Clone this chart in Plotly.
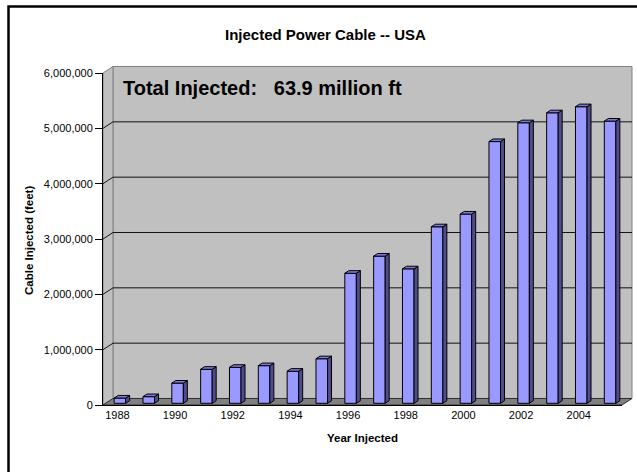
import plotly.graph_objects as go

# ---------------- data ----------------
years = list(range(1988, 2006))
cable_ft = [95000, 120000, 365000, 615000, 650000, 680000, 580000, 805000,
            2350000, 2660000, 2430000, 3190000, 3420000, 4730000, 5070000,
            5250000, 5360000, 5100000]
y_ticks = [0, 1000000, 2000000, 3000000, 4000000, 5000000, 6000000]
x_tick_years = [1988, 1990, 1992, 1994, 1996, 1998, 2000, 2002, 2004]
chart_title = "Injected Power Cable -- USA"
y_title = "Cable Injected (feet)"
x_title = "Year Injected"
note_text = "Total Injected:\u00a0\u00a0\u00a063.9 million ft"

# ---------------- geometry ----------------
W, H = 637, 472
ML, MR, MT, MB = 103, 15, 73, 67
PW = W - ML - MR
PH = H - MT - MB
XR = [years[0] - 0.5, years[-1] + 0.5]
YR = [0, 6000000]
DX, DY = 10, 6.5          # wall depth (px)
BOX, BOY = 2.5, 1.7       # bar plane offset from front (px)
BDX, BDY = 4, 2.6         # bar depth (px)
BAR_W = 0.4

ppx = PW / (XR[1] - XR[0])
ppy = PH / (YR[1] - YR[0])

FONT = "Liberation Sans, Arial, sans-serif"


def fx(px):
    return (px - ML) / PW


def fy(py):
    return (H - MB - py) / PH


def vy(v):
    return H - MB - (v - YR[0]) * ppy


def ppath(pts):
    return "M " + " L ".join(f"{fx(a):.5f},{fy(b):.5f}" for a, b in pts) + " Z"


shapes = []
xl, xr_ = ML, ML + PW
ytop, ybot = vy(YR[1]), vy(0)

# back wall
shapes.append(dict(type="path", xref="paper", yref="paper", layer="below",
                   path=ppath([(xl + DX, ytop - DY), (xr_ + DX, ytop - DY),
                               (xr_ + DX, ybot - DY), (xl + DX, ybot - DY)]),
                   fillcolor="#C0C0C0", line=dict(color="#808080", width=1)))
# side wall
shapes.append(dict(type="path", xref="paper", yref="paper", layer="below",
                   path=ppath([(xl, ytop), (xl + DX, ytop - DY),
                               (xl + DX, ybot - DY), (xl, ybot)]),
                   fillcolor="#C0C0C0", line=dict(color="#808080", width=1)))
# floor
shapes.append(dict(type="path", xref="paper", yref="paper", layer="below",
                   path=ppath([(xl, ybot), (xl + DX, ybot - DY),
                               (xr_ + DX, ybot - DY), (xr_, ybot)]),
                   fillcolor="#808080", line=dict(color="#303030", width=1)))
# gridlines on side wall + back wall
for v in y_ticks[1:-1]:
    yy = vy(v)
    shapes.append(dict(type="path", xref="paper", yref="paper", layer="below",
                       path="M {:.5f},{:.5f} L {:.5f},{:.5f} L {:.5f},{:.5f}".format(
                           fx(xl), fy(yy), fx(xl + DX), fy(yy - DY), fx(xr_ + DX), fy(yy - DY)),
                       line=dict(color="#111111", width=1)))

# bar 3D faces
dxu = BDX / ppx
dyu = BDY / ppy
h = BAR_W / 2
for x, v in zip(years, cable_ft):
    side = (f"M {x + h},0 L {x + h + dxu},{dyu} L {x + h + dxu},{v + dyu} "
            f"L {x + h},{v} Z")
    top = (f"M {x - h},{v} L {x + h},{v} L {x + h + dxu},{v + dyu} "
           f"L {x - h + dxu},{v + dyu} Z")
    shapes.append(dict(type="path", xref="x2", yref="y2", path=side,
                       fillcolor="#4D4D8C", line=dict(color="#000000", width=1)))
    shapes.append(dict(type="path", xref="x2", yref="y2", path=top,
                       fillcolor="#7C7CD6", line=dict(color="#000000", width=1)))

# outer chart border
shapes.append(dict(type="rect", xref="paper", yref="paper",
                   x0=fx(8.5), y0=fy(6.5), x1=fx(W + 30), y1=fy(H + 30),
                   line=dict(color="#000000", width=2.5), fillcolor="rgba(0,0,0,0)"))

fig = go.Figure()
# invisible trace on the front-plane axes so their ticks/labels are drawn
fig.add_trace(go.Scatter(x=years, y=cable_ft, xaxis="x", yaxis="y", mode="markers",
                         marker=dict(opacity=0, size=1), showlegend=False,
                         hoverinfo="skip"))
fig.add_trace(go.Bar(x=years, y=cable_ft, xaxis="x2", yaxis="y2", width=BAR_W,
                     marker=dict(color="#9999FF", line=dict(color="#000000", width=1)),
                     showlegend=False, hoverinfo="x+y"))

annotations = [
    dict(text=f"<b>{chart_title}</b>", xref="paper", yref="paper", x=fx(325), y=fy(34),
         xanchor="center", yanchor="middle", showarrow=False,
         font=dict(family=FONT, size=15, color="#000000")),
    dict(text=f"<b>{note_text}</b>", xref="paper", yref="paper", x=fx(121), y=fy(88),
         xanchor="left", yanchor="middle", showarrow=False,
         font=dict(family=FONT, size=20, color="#000000")),
    dict(text=f"<b>{y_title}</b>", xref="paper", yref="paper", x=fx(29), y=fy(241),
         xanchor="center", yanchor="middle", textangle=-90, showarrow=False,
         font=dict(family=FONT, size=11.5, color="#000000")),
    dict(text=f"<b>{x_title}</b>", xref="paper", yref="paper", x=fx(362), y=fy(438),
         xanchor="center", yanchor="middle", showarrow=False,
         font=dict(family=FONT, size=11.5, color="#000000")),
]

fig.update_layout(
    width=W, height=H,
    margin=dict(l=ML, r=MR, t=MT, b=MB, pad=0),
    paper_bgcolor="#FFFFFF", plot_bgcolor="rgba(0,0,0,0)",
    font=dict(family=FONT, size=11, color="#000000"),
    xaxis=dict(range=XR, tickvals=x_tick_years, ticktext=[str(y) for y in x_tick_years],
               ticks="", showline=True, linecolor="#000000", linewidth=1,
               showgrid=False, zeroline=False, fixedrange=True,
               tickfont=dict(family=FONT, size=11, color="#000000")),
    yaxis=dict(range=YR, tickvals=y_ticks, tickformat=",d",
               ticks="outside", ticklen=7, tickcolor="#000000", tickwidth=1,
               showline=True, linecolor="#000000", linewidth=1,
               showgrid=False, zeroline=False, fixedrange=True,
               tickfont=dict(family=FONT, size=11, color="#000000")),
    xaxis2=dict(overlaying="x", range=[XR[0] - BOX / ppx, XR[1] - BOX / ppx],
                visible=False, fixedrange=True),
    yaxis2=dict(overlaying="y", range=[YR[0] - BOY / ppy, YR[1] - BOY / ppy],
                visible=False, fixedrange=True),
    shapes=shapes,
    annotations=annotations,
    bargap=0.6,
)

fig.write_html("out.html")
